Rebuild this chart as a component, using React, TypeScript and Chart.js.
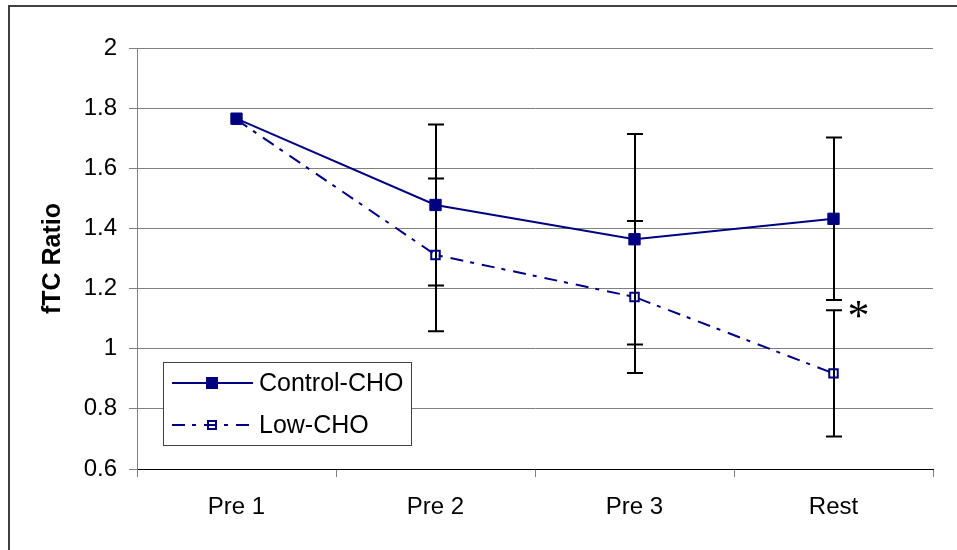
import React, { useEffect, useRef } from "react";
import { Chart, registerables } from "chart.js";

Chart.register(...registerables);

const categories = ["Pre 1", "Pre 2", "Pre 3", "Rest"];
const controlLabel = "Control-CHO";
const controlValues = [1.765, 1.478, 1.364, 1.432];
const controlErrors = [0, 0.268, 0.35, 0.27];
const lowLabel = "Low-CHO";
const lowValues = [1.762, 1.312, 1.172, 0.918];
const lowErrors = [0, 0.254, 0.253, 0.21];
const yMin = 0.6;
const yMax = 2;
const yStep = 0.2;
const yTitle = "fTC Ratio";
const asteriskText = "*";
const asteriskIndex = 3;
const asteriskValue = 1.12;

const NAVY = "#000080";
const FONT = "'Liberation Sans', Arial, sans-serif";
const LOW_DASH = [13, 7, 4, 8];

const errorBarPlugin = {
  id: "errorBars",
  beforeDatasetsDraw(chart: any) {
    const ctx = chart.ctx;
    const y = chart.scales.y;
    ctx.save();
    ctx.strokeStyle = "#000";
    ctx.lineWidth = 2;
    ctx.setLineDash([]);
    chart.data.datasets.forEach((ds: any, i: number) => {
      const meta = chart.getDatasetMeta(i);
      ds.errors.forEach((e: number, j: number) => {
        if (!e) return;
        const v = ds.data[j];
        const px = Math.round(meta.data[j].x);
        const yt = y.getPixelForValue(v + e);
        const yb = y.getPixelForValue(v - e);
        ctx.beginPath();
        ctx.moveTo(px, yt);
        ctx.lineTo(px, yb);
        ctx.moveTo(px - 8, yt);
        ctx.lineTo(px + 8, yt);
        ctx.moveTo(px - 8, yb);
        ctx.lineTo(px + 8, yb);
        ctx.stroke();
      });
    });
    ctx.restore();
  },
  afterDatasetsDraw(chart: any) {
    const ctx = chart.ctx;
    const x = chart.scales.x;
    const y = chart.scales.y;
    ctx.save();
    ctx.fillStyle = "#000";
    ctx.font = "44px 'Liberation Serif', 'Times New Roman', serif";
    ctx.textAlign = "center";
    ctx.textBaseline = "middle";
    ctx.fillText(asteriskText, x.getPixelForValue(asteriskIndex) + 25, y.getPixelForValue(asteriskValue) + 6);
    ctx.restore();
  },
};

const legendPlugin = {
  id: "boxLegend",
  afterDraw(chart: any) {
    const ctx = chart.ctx;
    const a = chart.chartArea;
    const bx = a.left + 26;
    const by = a.bottom - 107;
    const bw = 248;
    const bh = 83;
    ctx.save();
    ctx.fillStyle = "#fff";
    ctx.fillRect(bx, by, bw, bh);
    ctx.strokeStyle = "#404040";
    ctx.lineWidth = 1;
    ctx.strokeRect(bx + 0.5, by + 0.5, bw, bh);
    const rows = [
      { label: controlLabel, dash: [] as number[], filled: true, yOff: 21 },
      { label: lowLabel, dash: LOW_DASH, filled: false, yOff: 63 },
    ];
    rows.forEach((r) => {
      const ry = by + r.yOff;
      ctx.strokeStyle = NAVY;
      ctx.lineWidth = 2;
      ctx.setLineDash(r.dash);
      ctx.beginPath();
      ctx.moveTo(bx + 9, ry);
      ctx.lineTo(bx + 90, ry);
      ctx.stroke();
      ctx.setLineDash([]);
      const mx = bx + 49;
      if (r.filled) {
        ctx.fillStyle = NAVY;
        ctx.fillRect(mx - 6, ry - 6, 12, 12);
      } else {
        ctx.fillStyle = "#fff";
        ctx.fillRect(mx - 5, ry - 5, 10, 10);
        ctx.strokeStyle = NAVY;
        ctx.lineWidth = 2;
        ctx.strokeRect(mx - 4, ry - 4, 8, 8);
        ctx.beginPath();
        ctx.moveTo(mx - 4, ry);
        ctx.lineTo(mx + 4, ry);
        ctx.stroke();
      }
      ctx.fillStyle = "#000";
      ctx.font = `25px ${FONT}`;
      ctx.textAlign = "left";
      ctx.textBaseline = "middle";
      ctx.fillText(r.label, bx + 96, ry + 1);
    });
    ctx.restore();
  },
};

export default function App() {
  const ref = useRef<HTMLCanvasElement | null>(null);
  useEffect(() => {
    if (!ref.current) return;
    const chart = new Chart(ref.current, {
      type: "line",
      data: {
        labels: categories,
        datasets: [
          {
            label: controlLabel,
            data: controlValues,
            errors: controlErrors,
            borderColor: NAVY,
            backgroundColor: NAVY,
            borderWidth: 2,
            pointStyle: "rect",
            pointRadius: 8,
            pointBorderWidth: 1,
            pointBackgroundColor: NAVY,
            pointBorderColor: NAVY,
            tension: 0,
            fill: false,
          } as any,
          {
            label: lowLabel,
            data: lowValues,
            errors: lowErrors,
            borderColor: NAVY,
            backgroundColor: "rgba(0,0,0,0)",
            borderWidth: 2,
            borderDash: LOW_DASH,
            pointStyle: "rect",
            pointRadius: 6,
            pointBorderWidth: 2,
            pointBackgroundColor: "rgba(0,0,0,0)",
            pointBorderColor: NAVY,
            tension: 0,
            fill: false,
          } as any,
        ],
      },
      options: {
        animation: false,
        responsive: false,
        devicePixelRatio: 1,
        layout: { padding: { top: 48, right: 24, left: 0, bottom: 0 } },
        plugins: {
          legend: { display: false },
          tooltip: { enabled: false },
          title: { display: false },
        },
        scales: {
          x: {
            type: "category",
            offset: true,
            grid: {
              display: true,
              drawOnChartArea: false,
              drawTicks: true,
              tickLength: 8,
              color: "#808080",
              offset: true,
            },
            border: { display: true, color: "#000", width: 1 },
            ticks: { color: "#000", font: { family: FONT, size: 24 }, padding: 16 },
            afterFit: (s: any) => {
              s.height = 81;
            },
          },
          y: {
            min: yMin,
            max: yMax,
            ticks: {
              stepSize: yStep,
              padding: 12,
              color: "#000",
              font: { family: FONT, size: 24 },
              callback: (v: any) => String(Number(Number(v).toFixed(1))),
            },
            grid: { color: "#808080", tickLength: 8, drawTicks: true },
            border: { display: true, color: "#808080" },
            title: {
              display: true,
              text: yTitle,
              color: "#000",
              font: { family: FONT, size: 25, weight: "bold" },
              padding: { top: 38, bottom: 0 },
            },
            afterFit: (s: any) => {
              s.width = 137;
            },
          },
        },
      } as any,
      plugins: [errorBarPlugin, legendPlugin],
    });
    return () => chart.destroy();
  }, []);
  return (
    <div
      style={{
        position: "fixed",
        left: 0,
        top: 0,
        width: 957,
        height: 550,
        background: "#fff",
        overflow: "hidden",
      }}
    >
      <canvas ref={ref} width={957} height={550} style={{ position: "absolute", left: 0, top: 0 }} />
      <div
        style={{
          position: "absolute",
          left: 8,
          top: 5,
          width: 1200,
          height: 800,
          borderLeft: "2px solid #404040",
          borderTop: "2px solid #404040",
          pointerEvents: "none",
        }}
      />
    </div>
  );
}
